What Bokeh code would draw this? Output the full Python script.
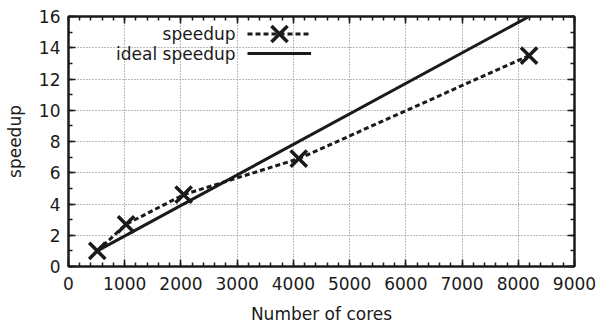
from bokeh.plotting import figure
from bokeh.models import (Legend, LegendItem, Label, LinearAxis, SingleIntervalTicker,
                          Range1d, CustomLabelingPolicy)
from bokeh.embed import file_html
from bokeh.resources import INLINE

# ---- data ----
cores = [512, 1024, 2048, 4096, 8192]
speedup = [1.0, 2.7, 4.6, 6.9, 13.5]
ideal_cores = [512, 8192]
ideal_speedup = [1, 16]

FONT = "DejaVu Sans"
FS = "17px"
INK = "#1a1a1a"

p = figure(width=599, height=326, x_range=Range1d(0, 9000), y_range=Range1d(0, 16),
           output_backend="svg", toolbar_location=None,
           min_border_left=68, min_border_right=24, min_border_top=15, min_border_bottom=59)

p.outline_line_color = INK
p.outline_line_width = 2
p.background_fill_color = "white"
p.border_fill_color = "white"

xt = SingleIntervalTicker(interval=1000, num_minor_ticks=5)
yt = SingleIntervalTicker(interval=2, num_minor_ticks=2)

def style_axis(ax, ticker, show_labels):
    ax.ticker = ticker
    ax.axis_line_color = INK
    ax.axis_line_width = 2
    ax.major_tick_line_color = INK
    ax.minor_tick_line_color = INK
    ax.major_tick_line_width = 1.5
    ax.minor_tick_line_width = 1.5
    ax.major_tick_in = 7
    ax.major_tick_out = 0
    ax.minor_tick_in = 4
    ax.minor_tick_out = 0
    ax.major_label_text_font = FONT
    ax.major_label_text_color = INK
    ax.major_label_text_font_size = FS
    if not show_labels:
        ax.major_label_policy = CustomLabelingPolicy(code="return new Set()")
        ax.major_label_standoff = 0
    ax.axis_label_text_font = FONT
    ax.axis_label_text_font_size = FS
    ax.axis_label_text_font_style = "normal"
    ax.axis_label_text_color = INK

style_axis(p.xaxis[0], xt, True)
style_axis(p.yaxis[0], yt, True)
p.xaxis.axis_label = "Number of cores"
p.yaxis.axis_label = "speedup"
p.xaxis.major_label_standoff = 10
p.yaxis.major_label_standoff = 8
p.xaxis.axis_label_standoff = 11
p.yaxis.axis_label_standoff = 11

top_ax = LinearAxis()
style_axis(top_ax, xt, False)
p.add_layout(top_ax, "above")
right_ax = LinearAxis()
style_axis(right_ax, yt, False)
p.add_layout(right_ax, "right")

for g in (p.xgrid[0], p.ygrid[0]):
    g.grid_line_color = "#777777"
    g.grid_line_dash = "1 2"
    g.grid_line_width = 1
p.xgrid.ticker = xt
p.ygrid.ticker = yt

# ---- series ----
r_ideal = p.line(ideal_cores, ideal_speedup, line_color=INK, line_width=3)
r_sp_line = p.line(cores, speedup, line_color=INK, line_width=3, line_dash="5 3")
r_sp_pts = p.scatter(cores, speedup, marker="x", size=23, line_color=INK, line_width=3.5)

# ---- legend (gnuplot style: text then sample) ----
for txt, yy in (("speedup", 233), ("ideal speedup", 213)):
    p.add_layout(Label(x=167, y=yy, x_units="screen", y_units="screen", text=txt,
                       text_align="right", text_baseline="middle",
                       text_font=FONT, text_font_size=FS, text_color=INK))

def glyph_legend(renderers, gh, loc):
    lg = Legend(items=[LegendItem(label="", renderers=renderers)], location=loc,
                glyph_width=64, glyph_height=gh, label_height=0, label_width=0,
                label_standoff=0, padding=0, margin=0, spacing=0,
                border_line_alpha=0, background_fill_alpha=0,
                label_text_font=FONT, label_text_font_size=FS)
    p.add_layout(lg)

glyph_legend([r_sp_line, r_sp_pts], 57, (179, 204))
glyph_legend([r_ideal], 20, (179, 203))

open("out.html", "w").write(file_html(p, INLINE))
